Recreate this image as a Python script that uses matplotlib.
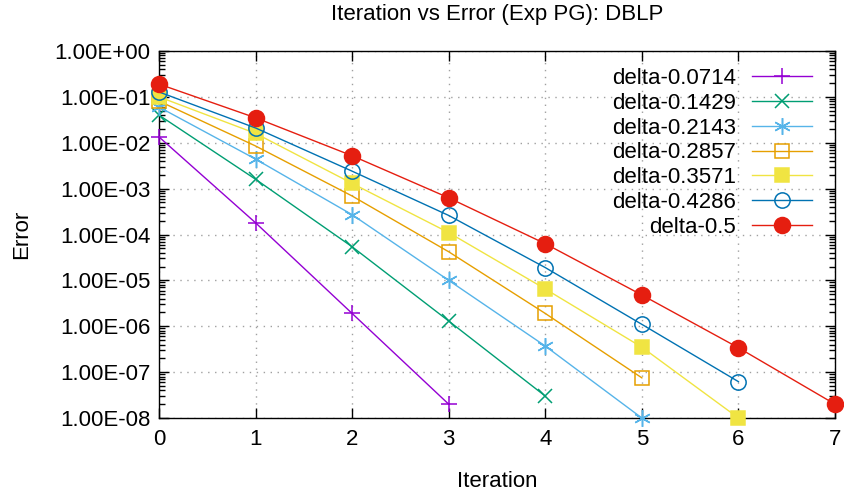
import matplotlib.pyplot as plt
from matplotlib.ticker import LogLocator, FixedLocator, FuncFormatter

plt.rcParams['font.family'] = ['Liberation Sans', 'DejaVu Sans']

# 数据
iterations = [0, 1, 2, 3, 4, 5, 6, 7]
labels = ["delta-0.0714", "delta-0.1429", "delta-0.2143", "delta-0.2857",
          "delta-0.3571", "delta-0.4286", "delta-0.5"]

err_0714 = [1.34e-2, 1.8e-4, 1.9e-6, 2.0e-8]
err_1429 = [4.0e-2, 1.6e-3, 5.4e-5, 1.3e-6, 3.0e-8]
err_2143 = [6.0e-2, 4.4e-3, 2.7e-4, 1.0e-5, 3.7e-7, 1.0e-8]
err_2857 = [8.1e-2, 8.5e-3, 6.9e-4, 4.2e-5, 1.9e-6, 7.5e-8]
err_3571 = [1.0e-1, 1.6e-2, 1.3e-3, 1.1e-4, 6.5e-6, 3.5e-7, 1.0e-8]
err_4286 = [1.28e-1, 2.1e-2, 2.4e-3, 2.6e-4, 1.9e-5, 1.1e-6, 6.2e-8]
err_5 = [1.9e-1, 3.5e-2, 5.2e-3, 6.3e-4, 6.3e-5, 4.8e-6, 3.4e-7, 2.0e-8]

series = [err_0714, err_1429, err_2143, err_2857, err_3571, err_4286, err_5]

# 样式（gnuplot 默认配色）
colors = ["#9400d3", "#009e73", "#56b4e9", "#e69f00", "#f0e442", "#0072b2", "#e51e10"]
markers = ["+", "x", (6, 2, 0), "s", "s", "o", "o"]
filled = [True, True, True, False, True, False, True]
sizes = [11, 10, 12, 10, 10, 11, 11.5]

fig = plt.figure(figsize=(8.44, 4.98), dpi=100)
ax = fig.add_axes([159 / 844, 1 - 418 / 498, (835 - 159) / 844, (418 - 51) / 498])

for vals, lab, c, m, f, s in zip(series, labels, colors, markers, filled, sizes):
    x = iterations[:len(vals)]
    ax.plot(x, vals, color=c, lw=1, marker=m, markersize=s, label=lab,
            markerfacecolor=c if f else "none", markeredgecolor=c,
            markeredgewidth=1.1, clip_on=False, zorder=3)

ax.set_yscale("log")
ax.set_xlim(0, 7)
ax.set_ylim(1e-8, 1)
ax.xaxis.set_major_locator(FixedLocator(iterations))
ax.yaxis.set_major_locator(LogLocator(base=10, numticks=20))
ax.yaxis.set_minor_locator(LogLocator(base=10, subs=(2, 3, 4, 5, 6, 7, 8, 9), numticks=20))
ax.yaxis.set_major_formatter(FuncFormatter(lambda v, p: f"{v:.2E}"))

ax.tick_params(which="both", direction="in", top=True, right=True, labelsize=16)
ax.tick_params(which="major", length=7, width=1)
ax.tick_params(which="minor", length=4, width=1)
ax.tick_params(axis="x", pad=8)
ax.tick_params(axis="y", pad=6)
ax.grid(True, which="major", linestyle=(0, (1, 4)), color="#a0a0a0", lw=1)
for sp in ax.spines.values():
    sp.set_linewidth(1)

ax.set_title("Iteration vs Error (Exp PG): DBLP", fontsize=16, pad=22)
ax.set_xlabel("Iteration", fontsize=16, labelpad=15)
ax.set_ylabel("Error", fontsize=16, labelpad=16)

leg = ax.legend(loc="upper right", bbox_to_anchor=(0.985, 0.99), frameon=False,
                markerfirst=False, fontsize=16, handlelength=2.7,
                labelspacing=0.17, handletextpad=0.7, borderaxespad=0.2)
for t in leg.get_texts():
    t.set_ha("right")
leg._legend_box.align = "right"
for col in leg._legend_handle_box.get_children():
    col.align = "right"

fig.savefig("out.png", dpi=100)
